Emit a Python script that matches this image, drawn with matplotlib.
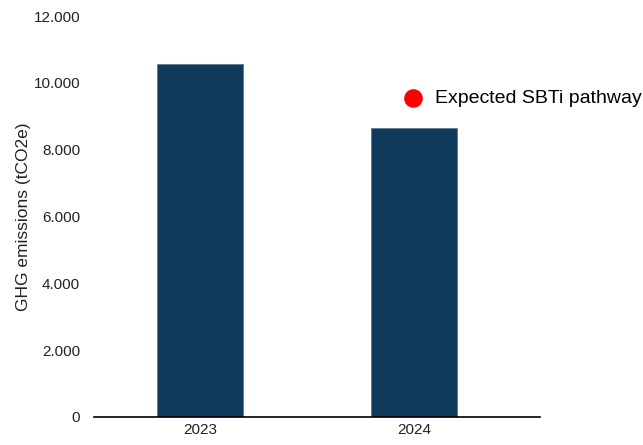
import matplotlib.pyplot as plt
from matplotlib.ticker import FuncFormatter, MultipleLocator

plt.rcParams['font.family'] = ['Liberation Sans', 'DejaVu Sans']

# data
years = ['2023', '2024']
emissions = [10560, 8640]
pathway_years = []
pathway_values = []

fig = plt.figure(figsize=(6.43, 4.45), dpi=100)
ax = fig.add_axes([94 / 643, 28 / 445, 446 / 643, 401 / 445])

x = range(len(years))
ax.bar(x, emissions, width=0.4, color='#0f3a5c', edgecolor='#5b7a94', linewidth=0.6)
ax.scatter(pathway_years, pathway_values, color='#ff0000', s=60, label='Expected SBTi pathway')

ax.set_xticks(list(x))
ax.set_xticklabels(years)
ax.set_xlim(-0.495, 1.59)
ax.set_ylim(0, 12000)
ax.yaxis.set_major_locator(MultipleLocator(2000))
ax.yaxis.set_major_formatter(FuncFormatter(lambda v, p: f'{int(v):,}'.replace(',', '.')))
ax.tick_params(axis='both', length=0, labelsize=11, colors='#222222')
ax.tick_params(axis='y', pad=10)
ax.tick_params(axis='x', pad=4)

for s in ['top', 'right', 'left']:
    ax.spines[s].set_visible(False)
ax.spines['bottom'].set_linewidth(1.2)
ax.spines['bottom'].set_color('black')

ax.set_ylabel('GHG emissions (tCO2e)', fontsize=12.5, color='#222222')
ax.yaxis.set_label_coords(-0.141, 0.5)

ax.legend(loc='center left', bbox_to_anchor=(0.655, 0.795), frameon=False, fontsize=14,
          handletextpad=0.1, borderaxespad=0, markerscale=1.6)

fig.savefig('out.png', dpi=100)
